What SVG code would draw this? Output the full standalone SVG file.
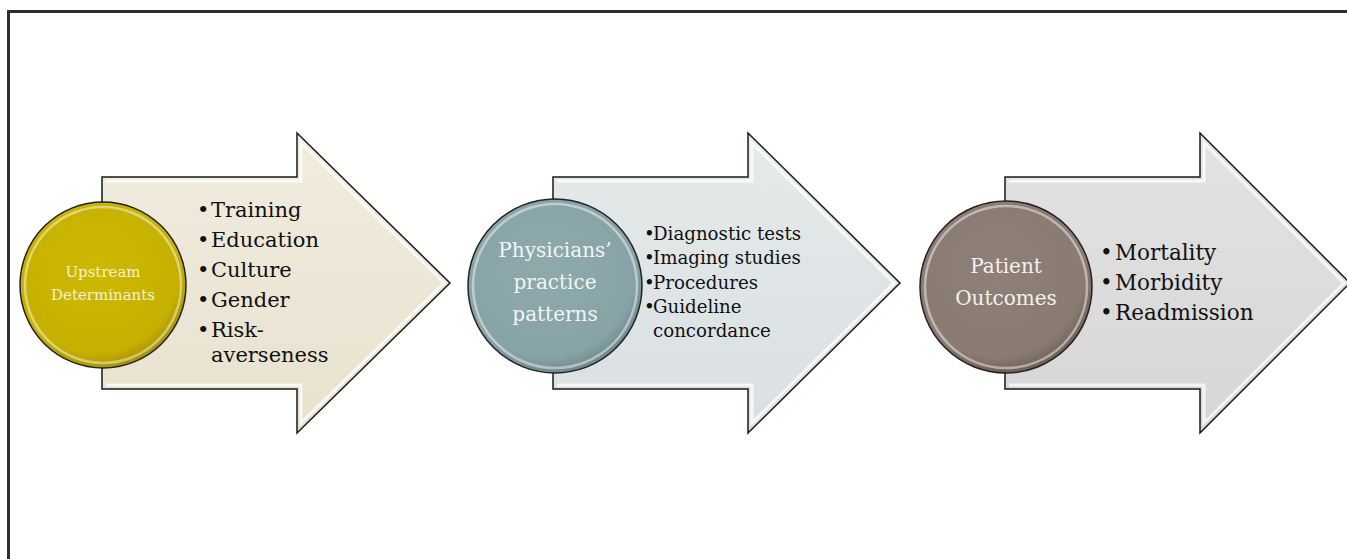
<svg xmlns="http://www.w3.org/2000/svg" width="1347" height="559" viewBox="0 0 1347 559">
<style>
.frame{fill:none;stroke:#2e2e2e;stroke-width:3}
.arrow{stroke:#1a1a1a;stroke-width:1.5;stroke-linejoin:miter}
.bevel{fill:none;stroke:#ffffff;stroke-opacity:0.75;stroke-width:3}
.circ{stroke:#222;stroke-width:1.5}
.ring{fill:none;stroke:#ffffff;stroke-opacity:0.45;stroke-width:2.5}
.ctext{font-family:"DejaVu Serif","Liberation Serif",serif;text-anchor:middle}
.btext{font-family:"DejaVu Serif","Liberation Serif",serif;fill:#111}
</style>
<defs>
<linearGradient id="g1" x1="0" y1="0" x2="0" y2="1"><stop offset="0" stop-color="#f1ecdf"/><stop offset="1" stop-color="#e7e1cf"/></linearGradient>
<linearGradient id="g2" x1="0" y1="0" x2="0" y2="1"><stop offset="0" stop-color="#e5eaea"/><stop offset="1" stop-color="#d9e0e1"/></linearGradient>
<linearGradient id="g3" x1="0" y1="0" x2="0" y2="1"><stop offset="0" stop-color="#e3e3e3"/><stop offset="1" stop-color="#d6d6d6"/></linearGradient>
<radialGradient id="c1" cx="0.45" cy="0.4" r="0.6"><stop offset="0" stop-color="#cdb900"/><stop offset="0.85" stop-color="#c6b000"/><stop offset="1" stop-color="#a89400"/></radialGradient>
<radialGradient id="c2" cx="0.45" cy="0.4" r="0.6"><stop offset="0" stop-color="#8eaaad"/><stop offset="0.85" stop-color="#88a3a7"/><stop offset="1" stop-color="#6f898d"/></radialGradient>
<radialGradient id="c3" cx="0.45" cy="0.4" r="0.6"><stop offset="0" stop-color="#8f8077"/><stop offset="0.85" stop-color="#8a7b72"/><stop offset="1" stop-color="#6f6158"/></radialGradient>
</defs>
<rect width="1347" height="559" fill="#ffffff"/>
<path class="frame" d="M8.5,565 V11.5 H1347"/>

<g id="node-upstream">
<path class="arrow" fill="url(#g1)" d="M102,177 H297 V133 L450,283 L297,433 V389 H102 Z"/>
<path class="bevel" d="M106,181 H301 V143 L444,283 L301,423 V385 H106"/>
<circle class="circ" cx="103" cy="285" r="83" fill="url(#c1)"/>
<circle class="ring" cx="103" cy="285" r="78"/>
<text class="ctext" x="103" y="277" font-size="15" fill="#f6f1d2">Upstream</text>
<text class="ctext" x="103" y="300" font-size="15" fill="#f6f1d2">Determinants</text>
<g class="btext" font-size="21">
<text x="197" y="217">•</text><text x="211" y="217">Training</text>
<text x="197" y="247">•</text><text x="211" y="247">Education</text>
<text x="197" y="277">•</text><text x="211" y="277">Culture</text>
<text x="197" y="307">•</text><text x="211" y="307">Gender</text>
<text x="197" y="337">•</text><text x="211" y="337">Risk-</text>
<text x="211" y="362">averseness</text>
</g>
</g>

<g id="node-practice">
<path class="arrow" fill="url(#g2)" d="M553,177 H748 V133 L900,283 L748,433 V389 H553 Z"/>
<path class="bevel" d="M557,181 H752 V143 L894,283 L752,423 V385 H557"/>
<circle class="circ" cx="555" cy="286" r="87" fill="url(#c2)"/>
<circle class="ring" cx="555" cy="286" r="82"/>
<text class="ctext" x="555" y="257" font-size="20" fill="#f2f5f5">Physicians’</text>
<text class="ctext" x="555" y="289" font-size="20" fill="#f2f5f5">practice</text>
<text class="ctext" x="555" y="321" font-size="20" fill="#f2f5f5">patterns</text>
<g class="btext" font-size="18.2">
<text x="644" y="240">•</text><text x="653" y="240">Diagnostic tests</text>
<text x="644" y="264">•</text><text x="653" y="264">Imaging studies</text>
<text x="644" y="289">•</text><text x="653" y="289">Procedures</text>
<text x="644" y="313">•</text><text x="653" y="313">Guideline</text>
<text x="653" y="337">concordance</text>
</g>
</g>

<g id="node-outcomes">
<path class="arrow" fill="url(#g3)" d="M1005,177 H1200 V133 L1350,283 L1200,433 V389 H1005 Z"/>
<path class="bevel" d="M1009,181 H1204 V143 L1344,283 L1204,423 V385 H1009"/>
<circle class="circ" cx="1006" cy="287" r="86" fill="url(#c3)"/>
<circle class="ring" cx="1006" cy="287" r="81"/>
<text class="ctext" x="1006" y="273" font-size="20" fill="#f4f1ef">Patient</text>
<text class="ctext" x="1006" y="305" font-size="20" fill="#f4f1ef">Outcomes</text>
<g class="btext" font-size="21.5">
<text x="1100" y="260">•</text><text x="1115" y="260">Mortality</text>
<text x="1100" y="290">•</text><text x="1115" y="290">Morbidity</text>
<text x="1100" y="320">•</text><text x="1115" y="320">Readmission</text>
</g>
</g>

<g id="connectors"></g>
</svg>
